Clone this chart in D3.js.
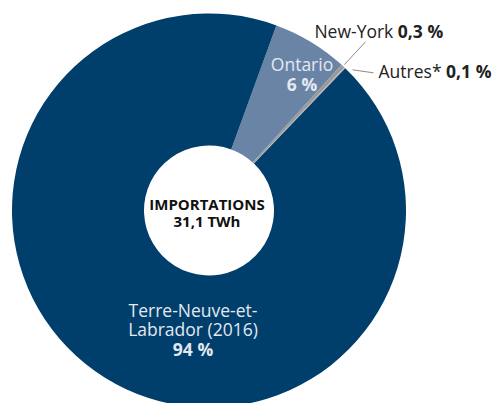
<!DOCTYPE html>
<html>
<head>
<meta charset="utf-8">
<script src="https://cdn.jsdelivr.net/npm/d3@7"></script>
<style>
  body { margin: 0; background: #fff; }
  svg { display: block; font-family: "Open Sans", sans-serif; }
</style>
</head>
<body>
<div id="chart"></div>
<script>
// Data (slice order follows the picture, clockwise from Ontario)
var categories = ["Ontario", "New-York", "Autres*", "Terre-Neuve-et-Labrador (2016)"];
var values = [6.2, 0.3, 0.1, 93.4];
var valueLabels = ["6 %", "0,3 %", "0,1 %", "94 %"];
var colors = ["#6a84a6", "#999999", "#b5b5b5", "#003e6b"];
var centerTitle = "IMPORTATIONS";
var centerTotal = "31,1 TWh";

var width = 493, height = 403;
var cx = 209, cy = 210.5;
var outerR = 197, innerR = 65;
var startDeg = 20;

var svg = d3.select("#chart")
  .append("svg")
  .attr("width", width)
  .attr("height", height);

var g = svg.append("g")
  .attr("transform", "translate(" + cx + "," + cy + ")");

var data = categories.map(function(c, i) {
  return { name: c, value: values[i], label: valueLabels[i], color: colors[i] };
});

var pie = d3.pie()
  .sort(null)
  .value(function(d) { return d.value; })
  .startAngle(startDeg * Math.PI / 180)
  .endAngle((startDeg + 360) * Math.PI / 180);

var arc = d3.arc()
  .innerRadius(innerR)
  .outerRadius(outerR);

var arcs = pie(data);

g.selectAll("path.slice")
  .data(arcs)
  .enter()
  .append("path")
  .attr("class", "slice")
  .attr("d", arc)
  .attr("fill", function(d) { return d.data.color; });

// point on a circle of radius r at the middle of a slice (+ optional extra degrees)
function edgePoint(d, r, extraDeg) {
  var a = (d.startAngle + d.endAngle) / 2 + (extraDeg || 0) * Math.PI / 180;
  return [r * Math.sin(a), -r * Math.cos(a)];
}

// Center text
g.append("text")
  .attr("text-anchor", "middle")
  .attr("x", -2)
  .attr("y", -1)
  .style("font-size", "15px")
  .style("font-weight", "bold")
  .attr("fill", "#111")
  .text(centerTitle);

g.append("text")
  .attr("text-anchor", "middle")
  .attr("x", -2)
  .attr("y", 16)
  .style("font-size", "15px")
  .style("font-weight", "bold")
  .attr("fill", "#111")
  .text(centerTotal);

// Ontario label (inside slice)
var ont = arcs[0];
var ontLab = g.append("text")
  .attr("text-anchor", "middle")
  .attr("fill", "#e3e9f1")
  .style("font-size", "17.5px");
ontLab.append("tspan").attr("x", 93).attr("y", -140).text(ont.data.name);
ontLab.append("tspan").attr("x", 93).attr("y", -120).style("font-weight", "bold").text(ont.data.label);

// New-York label with leader line
var ny = arcs[1];
var nyStart = edgePoint(ny, outerR + 2);
var nyEnd = edgePoint(ny, outerR + 33);
g.append("line")
  .attr("x1", nyStart[0]).attr("y1", nyStart[1])
  .attr("x2", nyEnd[0]).attr("y2", nyEnd[1])
  .attr("stroke", "#8a8a8a")
  .attr("stroke-width", 1);
var nyLab = g.append("text")
  .attr("x", nyEnd[0] - 51)
  .attr("y", nyEnd[1] - 4)
  .attr("fill", "#222")
  .style("font-size", "17.5px");
nyLab.append("tspan").text(ny.data.name + " ");
nyLab.append("tspan").style("font-weight", "bold").text(ny.data.label);

// Autres label with leader line
var au = arcs[2];
var auStart = edgePoint(au, outerR + 4, 2);
var auEnd = [auStart[0] + 21, auStart[1] + 3];
g.append("line")
  .attr("x1", auStart[0]).attr("y1", auStart[1])
  .attr("x2", auEnd[0]).attr("y2", auEnd[1])
  .attr("stroke", "#8a8a8a")
  .attr("stroke-width", 1);
var auLab = g.append("text")
  .attr("x", auEnd[0] + 5)
  .attr("y", auEnd[1] + 5)
  .attr("fill", "#222")
  .style("font-size", "17.5px");
auLab.append("tspan").text(au.data.name + " ");
auLab.append("tspan").style("font-weight", "bold").text(au.data.label);

// Terre-Neuve-et-Labrador label (inside slice)
var tnl = arcs[3];
var tnlLab = g.append("text")
  .attr("text-anchor", "middle")
  .attr("fill", "#e3e9f1")
  .style("font-size", "17.5px");
tnlLab.append("tspan").attr("x", -16).attr("y", 106).text("Terre-Neuve-et-");
tnlLab.append("tspan").attr("x", -16).attr("y", 125.5).text("Labrador (2016)");
tnlLab.append("tspan").attr("x", -16).attr("y", 145).style("font-weight", "bold").text(tnl.data.label);
</script>
</body>
</html>
